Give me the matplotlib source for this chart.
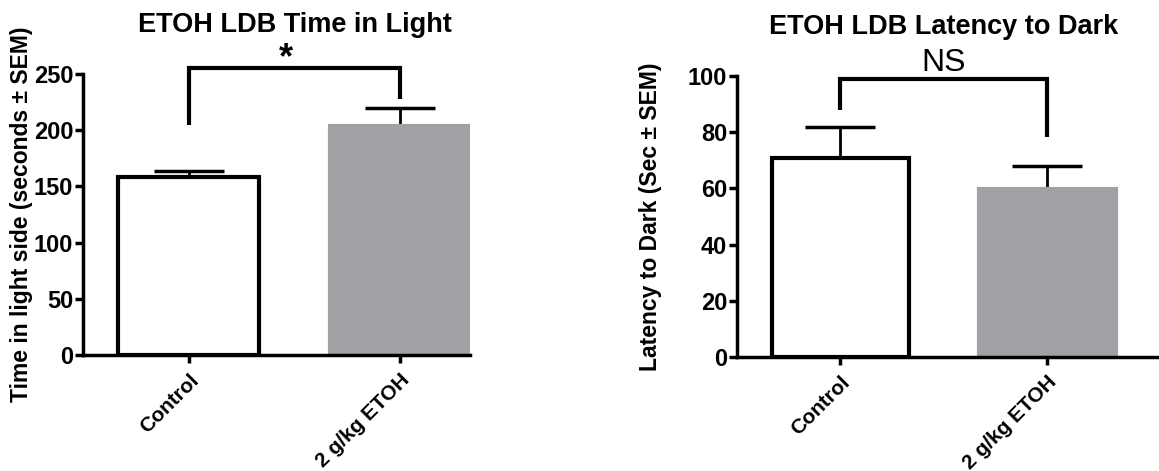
import numpy as np
import matplotlib
matplotlib.use("Agg")
from matplotlib import pyplot as plt

plt.rcParams['font.family'] = ['Liberation Sans', 'DejaVu Sans']
plt.rcParams['font.weight'] = 'bold'

# data
groups = ['Control', '2 g/kg ETOH']
light_mean = [158, 204]
light_sem = [6, 16]
dark_mean = [70.7, 59.7]
dark_sem = [11.2, 8.3]

fill_colors = ['white', '#a1a0a5']
edge_colors = ['black', '#a1a0a5']

fig = plt.figure(figsize=(11.59, 4.71), dpi=100)
ax1 = fig.add_axes([83/1159, 116/471, 387/1159, 281/471])
ax2 = fig.add_axes([737/1159, 114/471, 422/1159, 281/471])


def draw_panel(ax, means, sems, ymax, step, title, title_x, ylabel, ylabel_x, xmax, star, bracket, star_xy, star_size, star_weight):
    x = np.arange(len(means))
    ax.bar(x, means, width=0.665, color=fill_colors, edgecolor=edge_colors,
           linewidth=3, zorder=2)
    # only upper error bars
    ax.errorbar(x, means, yerr=[np.zeros(len(sems)), sems], fmt='none',
                ecolor='black', elinewidth=2, capsize=25, capthick=2.5, zorder=1)
    ax.set_xlim(-0.5, xmax)
    ax.set_ylim(0, ymax)
    ax.set_yticks(np.arange(0, ymax + 1, step))
    ax.set_xticks(x)
    ax.set_xticklabels(groups, rotation=45, ha='right', rotation_mode='anchor')
    ax.spines['top'].set_visible(False)
    ax.spines['right'].set_visible(False)
    ax.spines['left'].set_linewidth(2.5)
    ax.spines['bottom'].set_linewidth(2.5)
    ax.tick_params(width=2.5, length=6)
    ax.tick_params(axis='y', labelsize=17, pad=1)
    ax.tick_params(axis='x', labelsize=15, pad=5)
    ax.set_ylabel(ylabel, fontsize=16.5, fontweight='bold')
    ax.yaxis.set_label_coords(ylabel_x, 0.5)
    ax.set_title(title, fontsize=19.5, fontweight='bold', x=title_x, y=1.12)
    # significance bracket
    yl, ytop, yr = bracket
    ax.plot([0, 0, 1, 1], [yl, ytop, ytop, yr], color='black', lw=3,
            clip_on=False, solid_capstyle='butt', solid_joinstyle='miter')
    ax.text(star_xy[0], star_xy[1], star, ha='center', va='center', fontsize=star_size,
            fontweight=star_weight, clip_on=False)


draw_panel(ax1, light_mean, light_sem, 250, 50, 'ETOH LDB Time in Light', 0.548,
           'Time in light side (seconds \u00b1 SEM)', -0.129, 1.33, '*', (205, 255, 228),
           (0.46, 264), 26, 'bold')
draw_panel(ax2, dark_mean, dark_sem, 100, 20, 'ETOH LDB Latency to Dark', 0.49,
           'Latency to Dark (Sec \u00b1 SEM)', -0.178, 1.54, 'NS', (88, 98.8, 78.4),
           (0.5, 104.5), 23, 'normal')

fig.savefig('out.png', dpi=100)
